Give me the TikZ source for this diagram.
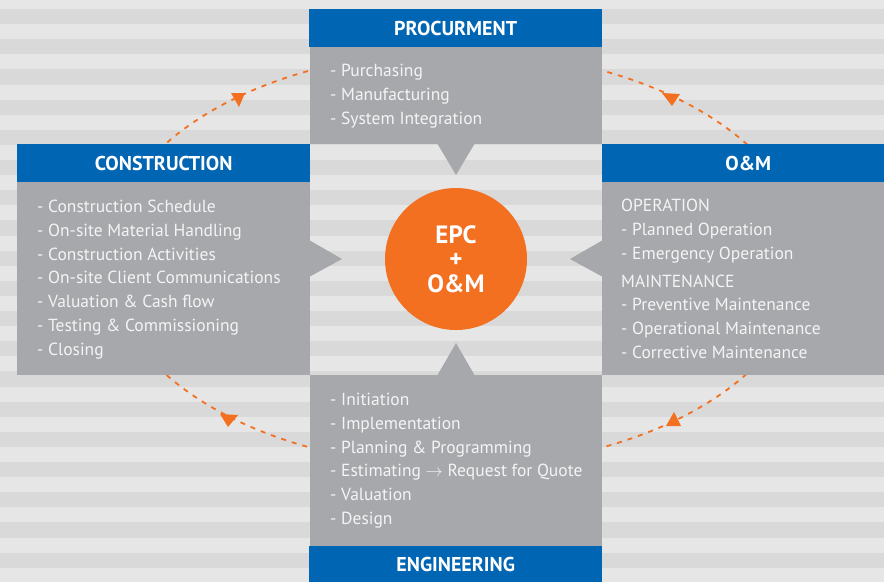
\documentclass[tikz,border=0pt]{standalone}
\usepackage{fontspec}
\setmainfont{PT Sans}
\definecolor{bglight}{RGB}{230,230,230}
\definecolor{bgdark}{RGB}{217,217,217}
\definecolor{hdrblue}{RGB}{0,101,179}
\definecolor{boxgray}{RGB}{167,168,172}
\definecolor{epcorange}{RGB}{243,112,33}
\definecolor{txtw}{RGB}{244,244,244}
\begin{document}
\begin{tikzpicture}[x=1pt,y=-1pt,
  hdr/.style={fill=hdrblue, draw=none, inner sep=0pt, text=white,
    font=\fontsize{20}{24}\selectfont\bfseries},
  body/.style={fill=boxgray, draw=none, inner sep=0pt},
  item/.style={align=left, inner sep=0pt, text=txtw,
    font=\fontsize{17.5}{23.7}\selectfont},
  cyc/.style={draw=epcorange, line width=1.8pt, dash pattern=on 5pt off 6pt},
  tip/.style={fill=epcorange},
  ptr/.style={fill=boxgray}
]
\useasboundingbox (0,0) rectangle (884,582);
% background stripes
\fill[bglight] (0,0) rectangle (884,582);
\foreach \k in {0,...,19}
  \fill[bgdark] (0,{9+30.2*\k}) rectangle (884,{24.1+30.2*\k});
% dashed cycle
\draw[cyc] (456,259) ellipse [x radius=349pt, y radius=207.5pt];
\fill[tip] (231,93) -- (245,93) -- (239,107) -- cycle;
\fill[tip] (662,93) -- (680,94) -- (672,106) -- cycle;
\fill[tip] (220,414) -- (238,415) -- (228,427) -- cycle;
\fill[tip] (674,412) -- (681,426) -- (666,426) -- cycle;
% bodies
\node[body, minimum width=292pt, minimum height=97pt, anchor=north west] (procb) at (310,47) {};
\node[body, minimum width=293pt, minimum height=193pt, anchor=north west] (consb) at (17,182) {};
\node[body, minimum width=292pt, minimum height=193pt, anchor=north west] (omb) at (602,182) {};
\node[body, minimum width=292pt, minimum height=171pt, anchor=north west] (engb) at (310,375) {};
% pointers
\fill[ptr] (437,143) -- (475,143) -- (456,175) -- cycle;
\fill[ptr] (309,240) -- (309,277) -- (342,259) -- cycle;
\fill[ptr] (603,240) -- (603,277) -- (570,259) -- cycle;
\fill[ptr] (437,376) -- (475,376) -- (456,343) -- cycle;
% headers
\node[hdr, minimum width=293pt, minimum height=38pt, anchor=north west] (proch) at (309,9) {PROCURMENT};
\node[hdr, minimum width=293pt, minimum height=38pt, anchor=north west] (consh) at (17,144) {CONSTRUCTION};
\node[hdr, minimum width=292pt, minimum height=38pt, anchor=north west] (omh) at (602,144) {O\&M};
\node[hdr, minimum width=293pt, minimum height=36pt, anchor=north west] (engh) at (309,546) {ENGINEERING};
% body texts (base anchor = baseline of last line)
\node[item, anchor=base west] (proct) at (330,124)
  {- Purchasing\\- Manufacturing\\- System Integration};
\node[item, anchor=base west] (const) at (37,355)
  {- Construction Schedule\\- On-site Material Handling\\- Construction Activities\\- On-site Client Communications\\- Valuation \& Cash flow\\- Testing \& Commissioning\\- Closing};
\node[item, anchor=base west] (omt1) at (621,259)
  {OPERATION\\- Planned Operation\\- Emergency Operation};
\node[item, anchor=base west] (omt2) at (621,358.3)
  {MAINTENANCE\\- Preventive Maintenance\\- Operational Maintenance\\- Corrective Maintenance};
\node[item, anchor=base west] (engt) at (330,524.3)
  {- Initiation\\- Implementation\\- Planning \& Programming\\- Estimating $\rightarrow$ Request for Quote\\- Valuation\\- Design};
% center
\node[circle, fill=epcorange, minimum size=142pt, inner sep=0pt, text=white, align=center,
  font=\fontsize{25}{24.7}\selectfont\bfseries] (epc) at (456,259) {EPC\\+\\O\&M};
\end{tikzpicture}
\end{document}
